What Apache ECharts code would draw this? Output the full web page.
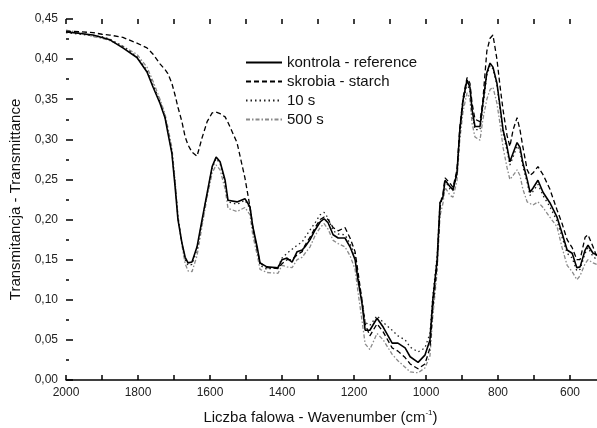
<!DOCTYPE html>
<html>
<head>
<meta charset="utf-8">
<script src="https://cdn.jsdelivr.net/npm/echarts@6/dist/echarts.min.js"></script>
<style>
  html, body { margin: 0; padding: 0; background: #fff; }
  #chart { width: 597px; height: 428px; }
</style>
</head>
<body>
<div id="chart"></div>
<script>
// wavenumber grid (cm-1), shared by all four spectra
const wavenumbers = [
  2000, 1960, 1925, 1900, 1878, 1842, 1803, 1775, 1758, 1739,
  1725, 1717, 1706, 1697, 1689, 1678, 1669, 1661, 1650, 1636,
  1622, 1608, 1594, 1583, 1572, 1558, 1550, 1525, 1503, 1489,
  1481, 1469, 1461, 1442, 1411, 1400, 1386, 1372, 1358, 1344,
  1336, 1322, 1308, 1294, 1283, 1272, 1258, 1244, 1225, 1211,
  1197, 1189, 1178, 1169, 1156, 1136, 1119, 1094, 1078, 1058,
  1044, 1022, 1003, 989, 981, 969, 961, 953, 947, 933,
  925, 914, 906, 897, 886, 878, 872, 864, 850, 842,
  831, 822, 814, 803, 794, 786, 775, 767, 758, 747,
  739, 731, 719, 711, 703, 689, 675, 656, 636, 622,
  608, 594, 581, 572, 558, 550, 536, 525
];

// kontrola - reference
const reference = [
  0.434, 0.432, 0.430, 0.427, 0.424, 0.414, 0.402, 0.384, 0.365, 0.345,
  0.327, 0.308, 0.283, 0.241, 0.200, 0.171, 0.153, 0.146, 0.147, 0.166,
  0.200, 0.233, 0.266, 0.278, 0.272, 0.249, 0.224, 0.222, 0.226, 0.216,
  0.191, 0.166, 0.146, 0.141, 0.140, 0.150, 0.152, 0.147, 0.160, 0.162,
  0.166, 0.175, 0.187, 0.197, 0.201, 0.196, 0.181, 0.177, 0.177, 0.166,
  0.150, 0.125, 0.096, 0.062, 0.062, 0.077, 0.066, 0.046, 0.046, 0.040,
  0.029, 0.022, 0.031, 0.050, 0.100, 0.150, 0.221, 0.228, 0.249, 0.241,
  0.237, 0.258, 0.312, 0.349, 0.374, 0.365, 0.337, 0.316, 0.316, 0.345,
  0.383, 0.395, 0.390, 0.370, 0.340, 0.312, 0.291, 0.272, 0.283, 0.296,
  0.290, 0.271, 0.250, 0.234, 0.239, 0.249, 0.234, 0.221, 0.203, 0.183,
  0.162, 0.158, 0.140, 0.141, 0.162, 0.168, 0.158, 0.156
];

// skrobia - starch
const starch = [
  0.435, 0.434, 0.433, 0.431, 0.430, 0.427, 0.420, 0.414, 0.406, 0.394,
  0.387, 0.382, 0.370, 0.355, 0.340, 0.322, 0.303, 0.293, 0.284, 0.279,
  0.302, 0.322, 0.333, 0.334, 0.332, 0.328, 0.321, 0.296, 0.252, 0.216,
  0.190, 0.163, 0.146, 0.140, 0.139, 0.145, 0.150, 0.150, 0.156, 0.160,
  0.168, 0.178, 0.190, 0.200, 0.203, 0.200, 0.190, 0.186, 0.190, 0.177,
  0.160, 0.135, 0.100, 0.070, 0.055, 0.070, 0.060, 0.040, 0.036, 0.028,
  0.020, 0.014, 0.020, 0.040, 0.090, 0.145, 0.215, 0.232, 0.252, 0.245,
  0.240, 0.262, 0.315, 0.352, 0.377, 0.370, 0.345, 0.325, 0.322, 0.349,
  0.410, 0.426, 0.430, 0.400, 0.365, 0.337, 0.305, 0.291, 0.312, 0.327,
  0.312, 0.291, 0.262, 0.255, 0.258, 0.266, 0.256, 0.238, 0.212, 0.195,
  0.175, 0.165, 0.150, 0.150, 0.178, 0.181, 0.166, 0.153
];

// 10 s
const t10s = [
  0.433, 0.431, 0.429, 0.428, 0.425, 0.416, 0.403, 0.386, 0.368, 0.347,
  0.328, 0.310, 0.285, 0.245, 0.203, 0.170, 0.150, 0.143, 0.144, 0.163,
  0.198, 0.232, 0.264, 0.276, 0.270, 0.245, 0.222, 0.219, 0.224, 0.214,
  0.188, 0.163, 0.143, 0.138, 0.141, 0.152, 0.158, 0.163, 0.168, 0.172,
  0.178, 0.187, 0.196, 0.206, 0.209, 0.202, 0.186, 0.182, 0.181, 0.170,
  0.155, 0.130, 0.100, 0.072, 0.068, 0.080, 0.072, 0.062, 0.055, 0.050,
  0.041, 0.035, 0.040, 0.058, 0.105, 0.155, 0.222, 0.230, 0.248, 0.238,
  0.236, 0.256, 0.308, 0.345, 0.370, 0.360, 0.333, 0.312, 0.312, 0.340,
  0.380, 0.392, 0.388, 0.368, 0.336, 0.308, 0.286, 0.268, 0.278, 0.292,
  0.285, 0.266, 0.246, 0.230, 0.235, 0.244, 0.230, 0.216, 0.198, 0.178,
  0.158, 0.152, 0.136, 0.138, 0.158, 0.165, 0.154, 0.150
];

// 500 s
const t500s = [
  0.436, 0.433, 0.428, 0.426, 0.423, 0.416, 0.406, 0.390, 0.372, 0.350,
  0.332, 0.315, 0.290, 0.250, 0.205, 0.168, 0.145, 0.136, 0.135, 0.155,
  0.192, 0.228, 0.258, 0.268, 0.262, 0.238, 0.214, 0.210, 0.215, 0.206,
  0.180, 0.156, 0.138, 0.134, 0.133, 0.143, 0.141, 0.140, 0.150, 0.153,
  0.158, 0.166, 0.180, 0.190, 0.195, 0.188, 0.174, 0.170, 0.166, 0.155,
  0.138, 0.110, 0.075, 0.045, 0.038, 0.058, 0.050, 0.032, 0.024, 0.016,
  0.010, 0.009, 0.015, 0.030, 0.080, 0.135, 0.205, 0.220, 0.240, 0.230,
  0.228, 0.248, 0.300, 0.335, 0.358, 0.350, 0.320, 0.303, 0.299, 0.325,
  0.350, 0.362, 0.365, 0.345, 0.318, 0.290, 0.265, 0.250, 0.255, 0.262,
  0.255, 0.238, 0.222, 0.220, 0.218, 0.222, 0.215, 0.203, 0.191, 0.165,
  0.143, 0.135, 0.125, 0.130, 0.145, 0.150, 0.146, 0.144
];

const xLabelValues = [2000, 1800, 1600, 1400, 1200, 1000, 800, 600];
const xTickValues = [2000, 1900, 1800, 1700, 1600, 1500, 1400, 1300, 1200, 1100, 1000, 900, 800, 700, 600];

const seriesNames = ['kontrola - reference', 'skrobia - starch', '10 s', '500 s'];

const toPairs = (vals) => wavenumbers.map((w, i) => [w, vals[i]]);

const font = 'Liberation Sans, Arial, sans-serif';

const chart = echarts.init(document.getElementById('chart'), null, { renderer: 'canvas' });

chart.setOption({
  animation: false,
  backgroundColor: '#fff',
  grid: { left: 66, right: 0, top: 19, bottom: 48, containLabel: false, outerBoundsMode: 'none' },
  legend: {
    orient: 'vertical',
    left: 240,
    top: 50,
    itemWidth: 36,
    itemHeight: 14,
    itemGap: 4,
    itemStyle: { opacity: 0 },
    textStyle: { fontFamily: font, fontSize: 15, color: '#111' },
    data: seriesNames
  },
  xAxis: [
    {
      type: 'value',
      inverse: true,
      min: 525,
      max: 2000,
      position: 'bottom',
      axisLine: { show: true, lineStyle: { color: '#000', width: 1.5 } },
      axisTick: { inside: true, length: 5, customValues: xTickValues, lineStyle: { color: '#000', width: 1.5 } },
      axisLabel: {
        customValues: xLabelValues,
        margin: 7,
        fontFamily: font,
        fontSize: 12,
        color: '#222',
        formatter: (v) => String(v)
      },
      splitLine: { show: false },
      name: '{a|Liczba falowa - Wavenumber (cm}{s|-1}{a|)}',
      nameLocation: 'middle',
      nameGap: 29,
      nameTextStyle: {
        padding: [0, 22, 0, 0],
        rich: {
          a: { fontFamily: font, fontSize: 15, color: '#111' },
          s: { fontFamily: font, fontSize: 8, color: '#111', padding: [0, 0, 9, 0] }
        }
      }
    },
    {
      type: 'value',
      inverse: true,
      min: 525,
      max: 2000,
      position: 'top',
      axisLine: { show: false },
      axisTick: { inside: true, length: 5, customValues: xTickValues, lineStyle: { color: '#000', width: 1.5 } },
      axisLabel: { show: false },
      splitLine: { show: false }
    }
  ],
  yAxis: {
    type: 'value',
    min: 0,
    max: 0.45,
    interval: 0.05,
    axisLine: { show: false },
    axisTick: { show: true, inside: true, length: 7, lineStyle: { color: '#000', width: 1.5 } },
    minorTick: { show: true, splitNumber: 2, length: 3, lineStyle: { color: '#000', width: 1.5 } },
    axisLabel: {
      margin: 8,
      fontFamily: font,
      fontSize: 12,
      color: '#222',
      formatter: (v) => v.toFixed(2).replace('.', ',')
    },
    splitLine: { show: false },
    name: 'Transmitancja - Transmittance',
    nameLocation: 'middle',
    nameGap: 40,
    nameTextStyle: { fontFamily: font, fontSize: 15, color: '#111' }
  },
  series: [
    {
      name: seriesNames[0],
      type: 'line',
      symbol: 'none',
      data: toPairs(reference),
      itemStyle: { color: '#000' },
      lineStyle: { color: '#000', width: 1.6, type: 'solid' },
      z: 4
    },
    {
      name: seriesNames[1],
      type: 'line',
      symbol: 'none',
      data: toPairs(starch),
      itemStyle: { color: '#000' },
      lineStyle: { color: '#000', width: 1.3, type: [5, 3] },
      z: 3
    },
    {
      name: seriesNames[2],
      type: 'line',
      symbol: 'none',
      data: toPairs(t10s),
      itemStyle: { color: '#000' },
      lineStyle: { color: '#222', width: 1.3, type: [1.5, 3] },
      z: 2
    },
    {
      name: seriesNames[3],
      type: 'line',
      symbol: 'none',
      data: toPairs(t500s),
      itemStyle: { color: '#888' },
      lineStyle: { color: '#8a8a8a', width: 1.3, type: [4, 2, 1.5, 2] },
      z: 1
    }
  ]
});
</script>
</body>
</html>
